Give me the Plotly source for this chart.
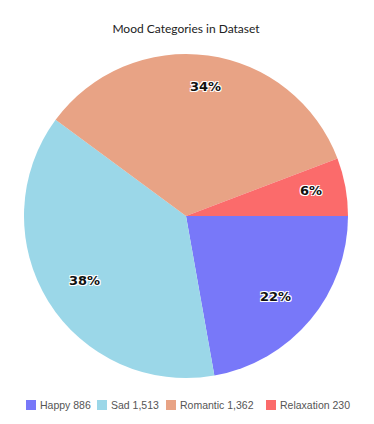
import math
import plotly.graph_objects as go

categories = ["Happy", "Sad", "Romantic", "Relaxation"]
values = [886, 1513, 1362, 230]
colors = ["#7878f9", "#9bd7e8", "#e8a385", "#fb6b6b"]

total = sum(values)
legend_names = [f"{c} {v:,}" for c, v in zip(categories, values)]

W, H = 374, 424
OFF = 8  # page body margin offset
ml, mr, mt, mb = 24 - OFF, 26 + OFF, 54 - OFF, 46 + OFF
pw, ph = W - ml - mr, H - mt - mb

fig = go.Figure()
fig.add_trace(go.Pie(
    labels=legend_names,
    values=values,
    marker=dict(colors=colors, line=dict(color="white", width=0)),
    sort=False,
    direction="clockwise",
    rotation=90,
    textinfo="none",
    hoverinfo="label+percent",
    showlegend=False,
))

# percentage labels placed at ~0.865 of the radius, at each slice's mid-angle
radius_px = min(pw, ph) / 2
label_r = 0.865 * radius_px
cum = 0
for v in values:
    mid = (cum + v / 2) / total
    cum += v
    theta = math.radians(-mid * 360)  # clockwise from 3 o'clock
    x = 0.5 + label_r * math.cos(theta) / pw
    y = 0.5 + label_r * math.sin(theta) / ph
    fig.add_annotation(
        x=x, y=y, xref="paper", yref="paper",
        text=f"<b>{round(100 * v / total)}%</b>",
        showarrow=False,
        font=dict(family="DejaVu Sans", size=13, color="#111",
                  shadow="-1px -1px 0 #fff, 1px -1px 0 #fff, -1px 1px 0 #fff, 1px 1px 0 #fff"),
    )

# compact legend row (swatch + label) under the pie
legend_x = [x - OFF for x in (26, 97, 166, 266)]   # left edge of each swatch, px
legend_y = 405 - OFF                               # vertical centre, px
sw = 10
for name, col, lx in zip(legend_names, colors, legend_x):
    fig.add_shape(type="rect", xref="paper", yref="paper",
                  x0=(lx - ml) / pw, x1=(lx + sw - ml) / pw,
                  y0=(H - mb - (legend_y + sw / 2)) / ph,
                  y1=(H - mb - (legend_y - sw / 2)) / ph,
                  fillcolor=col, line=dict(width=0))
    fig.add_annotation(x=(lx + sw + 2 - ml) / pw, y=(H - mb - legend_y) / ph,
                       xref="paper", yref="paper", xanchor="left", yanchor="middle",
                       text=name, showarrow=False,
                       font=dict(family="Liberation Sans", size=10.5, color="#555"))

fig.update_layout(
    width=W, height=H,
    margin=dict(l=ml, r=mr, t=mt, b=mb),
    paper_bgcolor="white",
    plot_bgcolor="white",
    showlegend=False,
    title=dict(text="Mood Categories in Dataset", x=(186 - OFF) / W, xanchor="center",
               y=1 - (29 - OFF) / H, yanchor="middle", yref="container",
               font=dict(family="Lato", size=12, color="#222")),
)

fig.write_html("out.html")
